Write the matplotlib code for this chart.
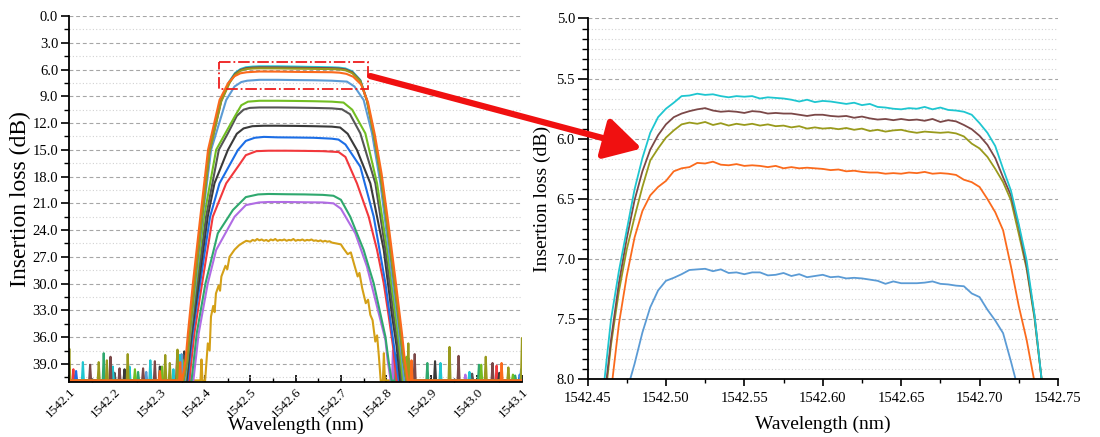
import matplotlib
matplotlib.use('Agg')
import matplotlib.pyplot as plt
from matplotlib.ticker import MultipleLocator, FormatStrFormatter
from matplotlib.patches import Rectangle, ConnectionPatch
import numpy as np

plt.rcParams['font.family'] = ['Liberation Serif', 'DejaVu Serif']

# ---------------- colours ----------------
colors = {
    'cyan': '#1EC6D0', 'brown': '#7B4848', 'olive': '#999A1C', 'orange': '#FB6A1C',
    'lblue': '#5B9BD5', 'lgreen': '#72BE22', 'dgray': '#555555', 'black': '#3A3A3A',
    'blue': '#1C6EE6', 'red': '#F2383C', 'green': '#2FA86E', 'purple': '#B06CE4',
    'gold': '#D4A017',
}

FLOOR = 40.85  # noise floor level (dB)

# ---------------- left panel: passband bodies (wavelength nm, loss dB) ----------------
cyan_L = [(1542.352, 40.9), (1542.360, 38.5), (1542.3651, 35.6), (1542.3762, 30.0), (1542.3925, 22.5),
          (1542.4096, 15.0), (1542.4355, 9.4), (1542.454, 7.3), (1542.466, 6.4), (1542.478, 5.95),
          (1542.490, 5.75), (1542.505, 5.67), (1542.520, 5.64), (1542.560, 5.64), (1542.600, 5.67),
          (1542.640, 5.71), (1542.680, 5.75), (1542.695, 5.78), (1542.710, 5.88), (1542.725, 6.2),
          (1542.7429, 7.17), (1542.7577, 9.42), (1542.7725, 13.15), (1542.7873, 17.64), (1542.8022, 23.24),
          (1542.817, 29.22), (1542.8318, 35.58), (1542.838, 38.5), (1542.845, 40.9)]
brown_L = [(1542.352, 40.9), (1542.360, 38.6), (1542.3651, 35.8), (1542.3762, 30.2), (1542.3925, 22.7),
           (1542.4096, 15.2), (1542.4355, 9.5), (1542.454, 7.4), (1542.466, 6.5), (1542.478, 6.05),
           (1542.490, 5.85), (1542.505, 5.78), (1542.520, 5.75), (1542.560, 5.76), (1542.600, 5.79),
           (1542.640, 5.82), (1542.680, 5.85), (1542.695, 5.88), (1542.710, 5.98), (1542.725, 6.3),
           (1542.7429, 7.25), (1542.7577, 9.5), (1542.7725, 13.2), (1542.7873, 17.7), (1542.8022, 23.3),
           (1542.817, 29.3), (1542.8318, 35.6), (1542.838, 38.5), (1542.845, 40.9)]
olive_L = [(1542.352, 40.9), (1542.360, 38.7), (1542.3651, 35.9), (1542.3762, 30.3), (1542.3925, 22.8),
           (1542.4096, 15.3), (1542.4355, 9.6), (1542.454, 7.5), (1542.466, 6.6), (1542.478, 6.15),
           (1542.490, 5.95), (1542.505, 5.88), (1542.520, 5.86), (1542.560, 5.87), (1542.600, 5.90),
           (1542.640, 5.92), (1542.680, 5.95), (1542.695, 5.98), (1542.710, 6.08), (1542.725, 6.4),
           (1542.7429, 7.3), (1542.7577, 9.55), (1542.7725, 13.25), (1542.7873, 17.75), (1542.8022, 23.35),
           (1542.817, 29.35), (1542.8318, 35.65), (1542.838, 38.6), (1542.845, 40.9)]
orange_L = [(1542.349, 40.9), (1542.357, 38.5), (1542.362, 35.6), (1542.373, 30.0), (1542.3895, 22.5),
            (1542.4065, 15.0), (1542.432, 9.4), (1542.451, 7.5), (1542.465, 6.75), (1542.478, 6.42),
            (1542.492, 6.3), (1542.520, 6.22), (1542.560, 6.23), (1542.600, 6.26), (1542.640, 6.28),
            (1542.680, 6.30), (1542.697, 6.35), (1542.712, 6.48), (1542.727, 6.8), (1542.745, 7.7),
            (1542.760, 9.7), (1542.775, 13.3), (1542.790, 17.7), (1542.805, 23.3), (1542.820, 29.3),
            (1542.835, 35.6), (1542.841, 38.5), (1542.848, 40.9)]
lblue_L = [(1542.355, 40.9), (1542.3666, 35.6), (1542.3784, 30.0), (1542.3947, 22.5), (1542.4133, 15.0),
           (1542.4466, 9.42), (1542.465, 7.9), (1542.480, 7.4), (1542.493, 7.25), (1542.520, 7.15),
           (1542.560, 7.15), (1542.600, 7.18), (1542.640, 7.20), (1542.680, 7.25), (1542.7133, 7.35),
           (1542.730, 7.9), (1542.7503, 9.42), (1542.7688, 13.15), (1542.7873, 18.76), (1542.8058, 26.23),
           (1542.8244, 33.71), (1542.832, 37.0), (1542.840, 40.9)]
lgreen_L = [(1542.356, 40.9), (1542.3673, 35.6), (1542.3799, 30.0), (1542.3977, 22.5), (1542.4244, 15.0),
            (1542.4651, 11.3), (1542.480, 10.0), (1542.4947, 9.6), (1542.520, 9.50), (1542.560, 9.50),
            (1542.600, 9.52), (1542.640, 9.55), (1542.680, 9.60), (1542.7058, 9.70), (1542.725, 10.5),
            (1542.754, 13.15), (1542.7799, 18.76), (1542.8022, 26.23), (1542.8207, 33.71), (1542.829, 37.0),
            (1542.837, 40.9)]
dgray_L = [(1542.357, 40.9), (1542.3688, 35.6), (1542.3829, 30.0), (1542.4021, 22.5), (1542.4303, 15.0),
           (1542.4503, 13.15), (1542.470, 11.2), (1542.485, 10.5), (1542.4984, 10.3), (1542.520, 10.25),
           (1542.560, 10.25), (1542.600, 10.27), (1542.640, 10.30), (1542.680, 10.35), (1542.7022, 10.45),
           (1542.720, 11.0), (1542.7429, 13.15), (1542.7762, 18.76), (1542.7984, 26.23), (1542.817, 33.71),
           (1542.826, 37.0), (1542.834, 40.9)]
black_L = [(1542.359, 40.9), (1542.3703, 35.6), (1542.3858, 30.0), (1542.4058, 22.5), (1542.4207, 18.76),
           (1542.4503, 15.02), (1542.470, 13.2), (1542.485, 12.6), (1542.5044, 12.35), (1542.530, 12.30),
           (1542.560, 12.30), (1542.600, 12.32), (1542.640, 12.35), (1542.680, 12.40), (1542.6984, 12.5),
           (1542.715, 13.2), (1542.7355, 15.02), (1542.7651, 18.76), (1542.7947, 26.23), (1542.8133, 33.71),
           (1542.823, 37.0), (1542.831, 40.9)]
blue_L = [(1542.361, 40.9), (1542.3725, 35.6), (1542.3888, 30.0), (1542.411, 22.5), (1542.4318, 18.76),
          (1542.4725, 15.02), (1542.490, 14.0), (1542.5096, 13.65), (1542.530, 13.55), (1542.560, 13.60),
          (1542.600, 13.62), (1542.640, 13.65), (1542.680, 13.75), (1542.6947, 13.85), (1542.710, 14.4),
          (1542.7429, 16.89), (1542.7725, 22.5), (1542.7984, 29.97), (1542.8133, 35.58), (1542.820, 38.0),
          (1542.828, 40.9)]
red_L = [(1542.365, 40.9), (1542.3762, 35.6), (1542.3933, 30.0), (1542.417, 22.5), (1542.4466, 18.76),
         (1542.4725, 16.89), (1542.490, 15.6), (1542.5133, 15.15), (1542.540, 15.10), (1542.580, 15.10),
         (1542.620, 15.12), (1542.660, 15.15), (1542.695, 15.25), (1542.710, 15.8), (1542.7355, 18.76),
         (1542.7614, 22.5), (1542.7799, 26.23), (1542.7947, 29.97), (1542.8058, 33.71), (1542.815, 37.0),
         (1542.823, 40.9)]
green_L = [(1542.370, 40.9), (1542.3814, 35.6), (1542.4007, 30.0), (1542.4281, 24.36), (1542.4614, 21.75),
           (1542.490, 20.3), (1542.517, 20.0), (1542.540, 19.95), (1542.580, 19.98), (1542.620, 20.0),
           (1542.660, 20.05), (1542.6836, 20.15), (1542.700, 20.6), (1542.7207, 22.5), (1542.7503, 26.23),
           (1542.7725, 29.97), (1542.7984, 35.95), (1542.805, 38.5), (1542.812, 40.9)]
purple_L = [(1542.374, 40.9), (1542.3858, 35.6), (1542.4058, 30.0), (1542.4244, 26.23), (1542.4651, 22.5),
            (1542.490, 21.2), (1542.5192, 20.9), (1542.540, 20.85), (1542.580, 20.85), (1542.620, 20.88),
            (1542.660, 20.9), (1542.6836, 21.0), (1542.700, 21.6), (1542.7318, 24.36), (1542.7577, 28.1),
            (1542.7762, 31.84), (1542.7984, 36.32), (1542.803, 38.5), (1542.810, 40.9)]
gold_L = [(1542.400, 40.9), (1542.406, 36.7), (1542.410, 37.5), (1542.413, 33.7), (1542.418, 32.5),
          (1542.421, 33.2), (1542.424, 31.1), (1542.430, 30.2), (1542.433, 30.8), (1542.436, 29.2),
          (1542.445, 28.0), (1542.449, 28.4), (1542.454, 27.0), (1542.465, 26.2), (1542.475, 25.7),
          (1542.484, 25.4), (1542.491, 25.2), (1542.500, 25.3), (1542.505, 25.1), (1542.510, 25.2),
          (1542.515, 25.0), (1542.520, 25.15), (1542.525, 25.05), (1542.530, 25.2), (1542.535, 25.1),
          (1542.540, 25.25), (1542.545, 25.05), (1542.550, 25.15), (1542.555, 25.0), (1542.560, 25.2),
          (1542.565, 25.1), (1542.570, 25.15), (1542.575, 25.05), (1542.580, 25.2), (1542.585, 25.1),
          (1542.590, 25.15), (1542.595, 25.0), (1542.600, 25.2), (1542.605, 25.1), (1542.610, 25.15),
          (1542.615, 25.05), (1542.620, 25.2), (1542.625, 25.1), (1542.630, 25.15), (1542.635, 25.05),
          (1542.640, 25.2), (1542.645, 25.15), (1542.650, 25.25), (1542.655, 25.15), (1542.660, 25.3),
          (1542.665, 25.2), (1542.670, 25.3), (1542.675, 25.25), (1542.680, 25.4), (1542.690, 25.5),
          (1542.700, 25.6), (1542.705, 26.0), (1542.715, 26.7), (1542.722, 26.5), (1542.728, 27.6),
          (1542.737, 29.2), (1542.741, 28.8), (1542.747, 30.5), (1542.755, 32.2), (1542.760, 31.8),
          (1542.765, 33.5), (1542.770, 34.1), (1542.776, 36.5), (1542.780, 35.8), (1542.784, 38.2),
          (1542.788, 40.9)]

# ---------------- left panel: noise-floor spikes (wavelength nm, loss dB) ----------------
cyan_SL = [(1542.130, 38.8), (1542.196, 39.3), (1542.233, 39.3), (1542.279, 38.6), (1542.330, 39.6), (1542.344, 38.0)]
cyan_SR = [(1542.852, 39.0), (1542.920, 38.9), (1542.984, 39.9)]
brown_SL = [(1542.146, 39.1), (1542.191, 38.2), (1542.211, 39.5), (1542.263, 39.5), (1542.289, 38.7), (1542.338, 38.3)]
brown_SR = [(1542.863, 37.9), (1542.960, 38.1), (1543.035, 38.9)]
olive_SL = [(1542.100, 37.3), (1542.165, 38.8), (1542.183, 38.6), (1542.229, 37.9), (1542.312, 38.0), (1542.322, 38.9), (1542.339, 37.4)]
olive_SR = [(1542.849, 36.7), (1542.940, 37.1), (1543.020, 38.2), (1543.070, 39.4), (1543.100, 36.1)]
orange_SL = [(1542.300, 39.8), (1542.345, 38.8)]
orange_SR = [(1542.856, 38.6), (1543.055, 38.9)]
lblue_SL = [(1542.270, 39.9), (1542.348, 37.9)]
lblue_SR = [(1542.850, 38.4), (1543.098, 39.6)]
lgreen_SL = [(1542.245, 39.6), (1542.305, 39.3), (1542.350, 38.5)]
lgreen_SR = [(1542.845, 38.2), (1543.010, 39.1), (1543.080, 40.2)]
dgray_SL = [(1542.200, 40.0), (1542.352, 38.0)]
dgray_SR = [(1542.842, 38.6), (1542.990, 40.1)]
black_SL = [(1542.222, 39.6), (1542.300, 39.3), (1542.354, 37.6)]
black_SR = [(1542.840, 39.2), (1542.908, 38.7), (1543.050, 40.0)]
blue_SL = [(1542.115, 39.8), (1542.356, 38.4)]
blue_SR = [(1542.836, 38.9), (1543.095, 40.2)]
red_SL = [(1542.109, 39.6), (1542.358, 38.6)]
red_SR = [(1542.830, 39.4), (1543.044, 39.2)]
green_SL = [(1542.176, 37.8), (1542.252, 39.9), (1542.362, 38.8)]
green_SR = [(1542.822, 38.0), (1542.891, 38.9), (1543.005, 39.1), (1543.085, 40.3)]
purple_SL = [(1542.366, 39.0)]
purple_SR = [(1542.815, 37.5), (1542.975, 40.2)]
gold_SL = [(1542.392, 38.5)]
gold_SR = [(1542.795, 37.8)]

left_curves = [
    ('gold', gold_SL, gold_L, gold_SR), ('purple', purple_SL, purple_L, purple_SR),
    ('green', green_SL, green_L, green_SR), ('red', red_SL, red_L, red_SR),
    ('blue', blue_SL, blue_L, blue_SR), ('black', black_SL, black_L, black_SR),
    ('dgray', dgray_SL, dgray_L, dgray_SR), ('lgreen', lgreen_SL, lgreen_L, lgreen_SR),
    ('lblue', lblue_SL, lblue_L, lblue_SR), ('cyan', cyan_SL, cyan_L, cyan_SR),
    ('brown', brown_SL, brown_L, brown_SR), ('olive', olive_SL, olive_L, olive_SR),
    ('orange', orange_SL, orange_L, orange_SR),
]

# ---------------- right panel (zoom) ----------------
zoom_wl = np.round(np.linspace(1542.455, 1542.745, 59), 4)
zoom_cyan = [8.6, 8.1, 7.5, 7.1, 6.76, 6.42, 6.16, 5.95, 5.82, 5.75, 5.70, 5.645,
             5.64, 5.625, 5.635, 5.63, 5.645, 5.655, 5.645, 5.65, 5.645, 5.665,
             5.655, 5.66, 5.665, 5.675, 5.69, 5.675, 5.695, 5.685, 5.69, 5.70,
             5.71, 5.70, 5.72, 5.71, 5.735, 5.74, 5.75, 5.755, 5.745, 5.75,
             5.735, 5.755, 5.74, 5.76, 5.765,
             5.775, 5.80, 5.87, 5.95, 6.06, 6.25, 6.43, 6.71, 7.01, 7.46, 8.05, 8.6]
zoom_brown = [8.6, 8.25, 7.67, 7.20, 6.83, 6.51, 6.27, 6.09, 5.97, 5.88, 5.82, 5.79,
              5.77, 5.755, 5.745, 5.765, 5.775, 5.77, 5.775, 5.785, 5.77, 5.775,
              5.79, 5.785, 5.79, 5.79, 5.80, 5.81, 5.80, 5.80, 5.81, 5.815,
              5.81, 5.825, 5.815, 5.83, 5.84, 5.835, 5.845, 5.835, 5.845, 5.84,
              5.85, 5.835, 5.86, 5.845, 5.855,
              5.885, 5.92, 5.975, 6.05, 6.16, 6.32, 6.47, 6.73, 7.06, 7.47, 8.05, 8.6]
zoom_olive = [8.6, 8.3, 7.71, 7.27, 6.92, 6.65, 6.40, 6.18, 6.08, 5.99, 5.93, 5.88,
              5.865, 5.875, 5.86, 5.885, 5.87, 5.89, 5.875, 5.885, 5.875, 5.89,
              5.88, 5.895, 5.89, 5.905, 5.895, 5.915, 5.905, 5.915, 5.91, 5.92,
              5.91, 5.925, 5.915, 5.935, 5.925, 5.94, 5.93, 5.925, 5.94, 5.95,
              5.94, 5.945, 5.95, 5.945, 5.955,
              5.98, 6.04, 6.08, 6.15, 6.25, 6.36, 6.51, 6.79, 7.08, 7.49, 8.05, 8.6]
zoom_orange = [8.8, 8.6, 8.1, 7.54, 7.14, 6.82, 6.60, 6.47, 6.40, 6.35, 6.27, 6.245,
               6.235, 6.20, 6.205, 6.19, 6.215, 6.22, 6.21, 6.225, 6.22, 6.225,
               6.235, 6.225, 6.245, 6.235, 6.245, 6.24, 6.245, 6.25, 6.26, 6.255,
               6.27, 6.265, 6.275, 6.28, 6.28, 6.29, 6.285, 6.29, 6.28, 6.285,
               6.275, 6.29, 6.285, 6.29, 6.30,
               6.34, 6.36, 6.40, 6.50, 6.61, 6.76, 7.06, 7.39, 7.67, 8.02, 8.5, 8.8]
zoom_lblue = [9.0, 8.8, 8.6, 8.4, 8.1, 7.87, 7.61, 7.40, 7.26, 7.18, 7.155, 7.125,
              7.09, 7.085, 7.08, 7.10, 7.085, 7.115, 7.11, 7.125, 7.11, 7.11,
              7.135, 7.13, 7.115, 7.14, 7.125, 7.15, 7.14, 7.13, 7.15, 7.145,
              7.16, 7.155, 7.16, 7.17, 7.18, 7.205, 7.185, 7.20, 7.20, 7.20,
              7.195, 7.185, 7.205, 7.21, 7.22,
              7.225, 7.285, 7.315, 7.42, 7.51, 7.615, 7.85, 8.1, 8.3, 8.5, 8.7, 8.9]
zoom_curves = [('lblue', zoom_lblue), ('orange', zoom_orange), ('olive', zoom_olive),
               ('brown', zoom_brown), ('cyan', zoom_cyan)]

# axis ranges and annotation anchors
L_XLIM = (1542.1, 1543.1)
L_YLIM = (41.0, 0.0)
R_XLIM = (1542.45, 1542.75)
R_YLIM = (8.0, 5.0)
box_wl = (1542.430, 1542.759)
box_db = (5.12, 8.18)
arrow_from = (1542.765, 6.73)   # left-panel data
arrow_to = (1542.4846, 6.08)    # right-panel data

W = 0.0022  # half-width of a floor spike


def assemble(spk_l, body, spk_r):
    pts = [(1542.09, FLOOR)]
    for sx, sy in spk_l:
        pts += [(sx - W, FLOOR), (sx, sy), (sx + W, FLOOR)]
    pts += body
    for sx, sy in spk_r:
        pts += [(sx - W, FLOOR), (sx, sy), (sx + W, FLOOR)]
    pts.append((1543.11, FLOOR))
    a = np.array(pts)
    return a[:, 0], a[:, 1]


fig = plt.figure(figsize=(11, 4.37), dpi=100)
ax1 = fig.add_axes([0.063, 0.1265, 0.4115, 0.8368])
ax2 = fig.add_axes([0.5341, 0.1316, 0.4277, 0.8261])

for name, sl, body, sr in left_curves:
    x, y = assemble(sl, body, sr)
    ax1.plot(x, y, color=colors[name], lw=1.5, solid_joinstyle='round', zorder=3)

for name, vals in zoom_curves:
    ax2.plot(zoom_wl, vals, color=colors[name], lw=1.3, solid_joinstyle='round', zorder=3)

ax1.set_xlim(*L_XLIM)
ax1.set_ylim(*L_YLIM)
ax2.set_xlim(*R_XLIM)
ax2.set_ylim(*R_YLIM)

ax1.xaxis.set_major_locator(MultipleLocator(0.1))
ax1.xaxis.set_minor_locator(MultipleLocator(0.05))
ax1.xaxis.set_major_formatter(FormatStrFormatter('%.1f'))
ax1.yaxis.set_major_locator(MultipleLocator(3))
ax1.yaxis.set_minor_locator(MultipleLocator(1.5))
ax1.yaxis.set_major_formatter(FormatStrFormatter('%.1f'))

ax2.xaxis.set_major_locator(MultipleLocator(0.05))
ax2.xaxis.set_minor_locator(MultipleLocator(0.025))
ax2.xaxis.set_major_formatter(FormatStrFormatter('%.2f'))
ax2.yaxis.set_major_locator(MultipleLocator(0.5))
ax2.yaxis.set_minor_locator(MultipleLocator(0.5 / 6))
ax2.yaxis.set_major_formatter(FormatStrFormatter('%.1f'))

for ax in (ax1, ax2):
    ax.set_axisbelow(True)
    ax.grid(axis='y', which='major', linestyle=(0, (3.5, 2.5)), color='#a6a6a6', lw=0.8)
    ax.grid(axis='y', which='minor', linestyle=(0, (1, 2)), color='#d2d2d2', lw=0.8)
    for s in ('top', 'right'):
        ax.spines[s].set_visible(False)
    for s in ('left', 'bottom'):
        ax.spines[s].set_linewidth(1.3)
        ax.spines[s].set_zorder(5)

ax1.tick_params(axis='y', which='major', direction='out', length=6, width=1.2, labelsize=10.5, pad=2)
ax1.tick_params(axis='y', which='minor', direction='out', length=3.5, width=1.0)
ax1.tick_params(axis='x', which='major', direction='in', length=5, width=1.2, labelsize=9.5, pad=3,
                labelrotation=45)
ax1.tick_params(axis='x', which='minor', direction='in', length=3, width=1.0)
for lbl in ax1.get_xticklabels():
    lbl.set_ha('right')
    lbl.set_va('top')
    lbl.set_rotation_mode('anchor')

ax2.tick_params(axis='y', which='major', direction='out', length=7, width=1.2, labelsize=10.5, pad=2)
ax2.tick_params(axis='y', which='minor', direction='out', length=4, width=1.0)
ax2.tick_params(axis='x', which='major', direction='out', length=5, width=1.2, labelsize=10.5, pad=4)
ax2.tick_params(axis='x', which='minor', direction='out', length=3, width=1.0)

ax1.set_xlabel('Wavelength (nm)', fontsize=14, labelpad=-2.5)
ax1.set_ylabel('Insertion loss (dB)', fontsize=17, labelpad=1)
ax2.set_xlabel('Wavelength (nm)', fontsize=14, labelpad=8)
ax2.set_ylabel('Insertion loss (dB)', fontsize=14, labelpad=4)

# dash-dot zoom box
ax1.add_patch(Rectangle((box_wl[0], box_db[0]), box_wl[1] - box_wl[0], box_db[1] - box_db[0],
                        fill=False, edgecolor='#EE1C1C', lw=1.3, linestyle='-.', zorder=6))

# red arrow from box to zoom panel
con = ConnectionPatch(xyA=arrow_from, coordsA=ax1.transData, xyB=arrow_to, coordsB=ax2.transData,
                      arrowstyle='-|>,head_length=0.8,head_width=0.45', mutation_scale=28,
                      color='#F01010', lw=4.5, zorder=10)
fig.add_artist(con)

fig.savefig('out.png', dpi=100)
